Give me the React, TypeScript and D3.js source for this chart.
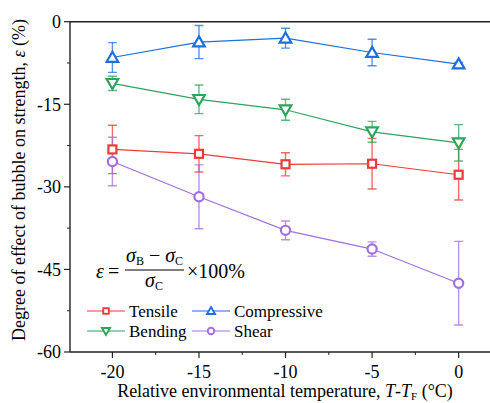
import React from "react";
import * as d3 from "d3";

const temps = [-20, -15, -10, -5, 0];

const tensile = [-23.2, -24.0, -25.9, -25.8, -27.8];
const tensileErr = [4.4, 3.3, 2.1, 4.6, 4.6];
const compressive = [-6.5, -3.7, -3.0, -5.6, -7.7];
const compressiveErr = [2.7, 3.0, 1.8, 2.4, 0.3];
const bending = [-11.2, -14.1, -16.0, -20.0, -22.0];
const bendingErr = [1.3, 2.6, 1.9, 1.9, 3.3];
const shear = [-25.4, -31.8, -37.9, -41.3, -47.5];
const shearErr = [4.4, 5.8, 1.7, 1.3, 7.6];

const yTicks = [0, -15, -30, -45, -60];
const yMinor = [-7.5, -22.5, -37.5, -52.5];
const xTicks = [-20, -15, -10, -5, 0];
const xMinor = [-17.5, -12.5, -7.5, -2.5];

const seriesNames = ["Tensile", "Compressive", "Bending", "Shear"];

type Series = { name: string; values: number[]; err: number[]; color: string; marker: string };

const series: Series[] = [
  { name: seriesNames[0], values: tensile, err: tensileErr, color: "#f03a3a", marker: "square" },
  { name: seriesNames[1], values: compressive, err: compressiveErr, color: "#1d6fdc", marker: "triangle" },
  { name: seriesNames[2], values: bending, err: bendingErr, color: "#2da45c", marker: "down" },
  { name: seriesNames[3], values: shear, err: shearErr, color: "#a46ee0", marker: "circle" },
];

const W = 490;
const H = 403;
const left = 70;
const top = 21.7;
const bottom = 352;
const right = 495;

const x = d3.scaleLinear().domain([-22.45, 2.1]).range([left, right]);
const y = d3.scaleLinear().domain([0, -60]).range([top, bottom]);

const FONT = "Liberation Serif";

function Marker({ kind, cx, cy, color, scale = 1 }: { kind: string; cx: number; cy: number; color: string; scale?: number }) {
  const sw = 2.2 * Math.min(1, scale + 0.15);
  if (kind === "square") {
    const s = 8 * scale;
    return <rect x={cx - s / 2} y={cy - s / 2} width={s} height={s} fill="white" stroke={color} strokeWidth={sw} />;
  }
  if (kind === "circle") {
    return <circle cx={cx} cy={cy} r={4.6 * scale} fill="white" stroke={color} strokeWidth={sw} />;
  }
  const sym = d3.symbol().type(d3.symbolTriangle).size(58 * scale * scale)();
  const rot = kind === "down" ? 180 : 0;
  const dy = (kind === "down" ? -1 : 1) * scale;
  return (
    <path
      d={sym || ""}
      transform={`translate(${cx},${cy + dy}) rotate(${rot})`}
      fill="white"
      stroke={color}
      strokeWidth={sw}
      strokeLinejoin="miter"
    />
  );
}

export default function App() {
  const line = d3
    .line<number>()
    .x((_, i) => x(temps[i]))
    .y((v) => y(v));

  const legendRows = [
    { s: series[0], lx: 87, ty: 311 },
    { s: series[1], lx: 192, ty: 311 },
    { s: series[2], lx: 87, ty: 331 },
    { s: series[3], lx: 192, ty: 331 },
  ];

  return (
    <svg
      width={W}
      height={H}
      style={{ position: "absolute", left: 0, top: 0, display: "block", background: "white" }}
    >
      <defs>
        <clipPath id="plotClip">
          <rect x={left} y={top - 10} width={W - left} height={bottom - top + 20} />
        </clipPath>
      </defs>

      {/* axes frame: left, top and bottom */}
      <line x1={left} x2={W} y1={top} y2={top} stroke="#222" strokeWidth={1.4} />
      <line x1={left} x2={W} y1={bottom} y2={bottom} stroke="#222" strokeWidth={1.4} />
      <line x1={left} x2={left} y1={top} y2={bottom} stroke="#222" strokeWidth={1.4} />

      {/* y ticks */}
      {yTicks.map((t) => (
        <g key={"yt" + t}>
          <line x1={left - 6} x2={left} y1={y(t)} y2={y(t)} stroke="#222" strokeWidth={1.2} />
          <text x={left - 9} y={y(t)} dy="0.35em" textAnchor="end" fontSize={18} fontFamily={FONT}>
            {t}
          </text>
        </g>
      ))}
      {yMinor.map((t) => (
        <line key={"ym" + t} x1={left - 3} x2={left} y1={y(t)} y2={y(t)} stroke="#222" strokeWidth={1} />
      ))}

      {/* x ticks */}
      {xTicks.map((t) => (
        <g key={"xt" + t}>
          <line x1={x(t)} x2={x(t)} y1={bottom} y2={bottom + 6} stroke="#222" strokeWidth={1.2} />
          <text x={x(t)} y={bottom + 26} textAnchor="middle" fontSize={18} fontFamily={FONT}>
            {t}
          </text>
        </g>
      ))}
      {xMinor.map((t) => (
        <line key={"xm" + t} x1={x(t)} x2={x(t)} y1={bottom} y2={bottom + 3} stroke="#222" strokeWidth={1} />
      ))}

      {/* axis titles */}
      <text x={285} y={397} textAnchor="middle" fontSize={18} fontFamily={FONT}>
        Relative environmental temperature, <tspan fontStyle="italic">T</tspan>-<tspan fontStyle="italic">T</tspan>
        <tspan fontSize={11} dy={3}>F</tspan>
        <tspan dy={-3}> (°C)</tspan>
      </text>
      <text
        transform={`translate(25,180) rotate(-90)`}
        textAnchor="middle"
        fontSize={18}
        fontFamily={FONT}
      >
        Degree of effect of bubble on strength, <tspan fontStyle="italic">ε</tspan> (%)
      </text>

      {/* series: error bars and lines */}
      <g clipPath="url(#plotClip)">
        {series.map((s) => (
          <g key={s.name}>
            {s.values.map((v, i) => (
              <g key={i} stroke={s.color} strokeOpacity={0.75} strokeWidth={1.4}>
                <line x1={x(temps[i])} x2={x(temps[i])} y1={y(v + s.err[i])} y2={y(v - s.err[i])} />
                <line x1={x(temps[i]) - 4.5} x2={x(temps[i]) + 4.5} y1={y(v + s.err[i])} y2={y(v + s.err[i])} />
                <line x1={x(temps[i]) - 4.5} x2={x(temps[i]) + 4.5} y1={y(v - s.err[i])} y2={y(v - s.err[i])} />
              </g>
            ))}
            <path d={line(s.values) || ""} fill="none" stroke={s.color} strokeWidth={1.2} />
          </g>
        ))}
        {series.map((s) => (
          <g key={s.name + "m"}>
            {s.values.map((v, i) => (
              <Marker key={i} kind={s.marker} cx={x(temps[i])} cy={y(v)} color={s.color} />
            ))}
          </g>
        ))}
      </g>

      {/* definition of ε */}
      <g fontSize={20} fontFamily={FONT}>
        <text x={96} y={278} fontStyle="italic" fontFamily={FONT}>ε</text>
        <text x={108} y={278} fontFamily={FONT}>=</text>
        <text x={126} y={262} fontFamily={FONT}>
          <tspan fontStyle="italic">σ</tspan>
          <tspan fontSize={12} dy={3}>B</tspan>
          <tspan dy={-3}> − </tspan>
          <tspan fontStyle="italic">σ</tspan>
          <tspan fontSize={12} dy={3}>C</tspan>
        </text>
        <line x1={125} x2={184} y1={270} y2={270} stroke="#000" strokeWidth={1} />
        <text x={145} y={287} fontFamily={FONT}>
          <tspan fontStyle="italic">σ</tspan>
          <tspan fontSize={12} dy={3}>C</tspan>
        </text>
        <text x={187} y={278} fontFamily={FONT}>×100%</text>
      </g>

      {/* legend */}
      {legendRows.map(({ s, lx, ty }) => (
        <g key={s.name + "lg"}>
          <line x1={lx} x2={lx + 38} y1={ty} y2={ty} stroke={s.color} strokeWidth={1.2} />
          <Marker kind={s.marker} cx={lx + 19} cy={ty} color={s.color} scale={0.7} />
          <text x={lx + 42} y={ty} dy="0.35em" fontSize={17} fontFamily={FONT}>
            {s.name}
          </text>
        </g>
      ))}
    </svg>
  );
}
